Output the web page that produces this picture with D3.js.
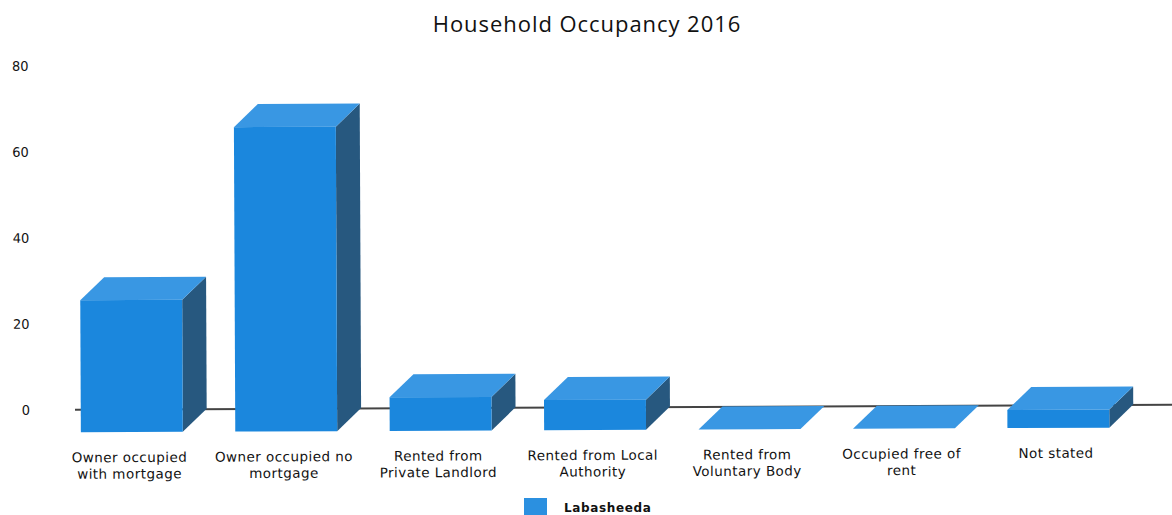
<!DOCTYPE html>
<html>
<head>
<meta charset="utf-8">
<script src="https://cdnjs.cloudflare.com/ajax/libs/d3/7.8.5/d3.min.js"></script>
<style>
    html, body { margin: 0; background: #fff; }
    svg { display: block; }
    text { fill: #111; font-family: "DejaVu Sans", sans-serif; }
</style>
</head>
<body>
<div id="chart"></div>
<script>
var chartTitle = 'Household Occupancy 2016';
var seriesName = 'Labasheeda';
var categories = [
    'Owner occupied with mortgage',
    'Owner occupied no mortgage',
    'Rented from Private Landlord',
    'Rented from Local Authority',
    'Rented from Voluntary Body',
    'Occupied free of rent',
    'Not stated'
];
var categoryLines = [
    ['Owner occupied', 'with mortgage'],
    ['Owner occupied no', 'mortgage'],
    ['Rented from', 'Private Landlord'],
    ['Rented from Local', 'Authority'],
    ['Rented from', 'Voluntary Body'],
    ['Occupied free of', 'rent'],
    ['Not stated']
];
var values = [30.7, 70.8, 7.8, 7, 0, 0, 4.2];
var yTicks = [0, 20, 40, 60, 80];

var width = 1172;
var height = 515;
var depthX = 24;
var depthY = 23;
var colors = { front: '#1b87dd', top: '#3997e3', side: '#27587f', axis: '#444' };

var svg = d3.select('#chart').append('svg')
    .attr('width', width)
    .attr('height', height);

/*
 * The source is a slightly crooked scan, so the plot leans a little.
 */
var plot = svg.append('g')
    .attr('transform', 'rotate(-0.26 586 408)');

var x = d3.scaleBand()
    .domain(categories)
    .range([54.5, 1135.5])
    .paddingInner(0.34)
    .paddingOuter(0.17);

/*
 * Back plane scale, the axis labels sit on it. Bars stand in front of it.
 */
var y = d3.scaleLinear()
    .domain([0, 80])
    .range([407.5, 63.5]);

var frontY = function(v) { return y(v) + depthY - 0.5; };

/*
 * Value axis.
 */
var yAxis = plot.append('g')
    .attr('transform', 'translate(30,0)')
    .call(d3.axisLeft(y).tickValues(yTicks).tickSize(0).tickPadding(0));
yAxis.select('.domain').remove();
yAxis.selectAll('text')
    .style('font-size', '13px')
    .style('font-family', '"DejaVu Sans", sans-serif');

/*
 * Zero line.
 */
plot.append('line')
    .attr('x1', 75)
    .attr('x2', width + 5)
    .attr('y1', y(0))
    .attr('y2', y(0))
    .attr('stroke', colors.axis)
    .attr('stroke-width', 2);

/*
 * Bars: front, top and side faces.
 */
var bar = plot.selectAll('.bar')
    .data(categories.map(function(c, i) { return { name: c, value: values[i] }; }))
    .enter().append('g')
    .attr('class', 'bar');

bar.append('path')
    .attr('fill', colors.side)
    .attr('d', function(d) {
        var r = x(d.name) + x.bandwidth();
        return d3.line()([
            [r, frontY(d.value)],
            [r + depthX, frontY(d.value) - depthY],
            [r + depthX, frontY(0) - depthY],
            [r, frontY(0)]
        ]) + 'Z';
    });

bar.append('path')
    .attr('fill', colors.top)
    .attr('d', function(d) {
        var l = x(d.name);
        var r = l + x.bandwidth();
        return d3.line()([
            [l, frontY(d.value)],
            [l + depthX, frontY(d.value) - depthY],
            [r + depthX, frontY(d.value) - depthY],
            [r, frontY(d.value)]
        ]) + 'Z';
    });

bar.append('rect')
    .attr('fill', colors.front)
    .attr('x', function(d) { return x(d.name); })
    .attr('y', function(d) { return frontY(d.value); })
    .attr('width', x.bandwidth())
    .attr('height', function(d) { return frontY(0) - frontY(d.value); });

/*
 * Category axis with two line labels.
 */
var xAxis = plot.append('g')
    .attr('transform', 'translate(-2.5,' + (frontY(0) + 30) + ')')
    .call(d3.axisBottom(x).tickSize(0).tickPadding(0));
xAxis.select('.domain').remove();
xAxis.selectAll('text')
    .style('font-size', '13.5px')
    .style('font-family', '"DejaVu Sans", sans-serif')
    .style('letter-spacing', '0.45px')
    .attr('y', 0)
    .attr('dy', 0)
    .text(null)
    .each(function(d, i) {
        d3.select(this).selectAll('tspan')
            .data(categoryLines[i])
            .enter().append('tspan')
            .attr('x', 0)
            .attr('dy', function(line, j) { return j === 0 ? 0 : 16.5; })
            .text(function(line) { return line; });
    });

/*
 * Title.
 */
svg.append('text')
    .attr('x', 587)
    .attr('y', 32)
    .attr('text-anchor', 'middle')
    .style('font-size', '22px')
    .style('font-family', '"Open Sans", sans-serif')
    .style('letter-spacing', '0.95px')
    .text(chartTitle);

/*
 * Legend, its swatch is cut off by the bottom edge.
 */
svg.append('rect')
    .attr('x', 524)
    .attr('y', 498)
    .attr('width', 23)
    .attr('height', 17)
    .attr('fill', '#2b90e0');

svg.append('text')
    .attr('x', 564)
    .attr('y', 512)
    .style('font-size', '12px')
    .style('font-weight', 'bold')
    .style('letter-spacing', '0.65px')
    .text(seriesName);
</script>
</body>
</html>
